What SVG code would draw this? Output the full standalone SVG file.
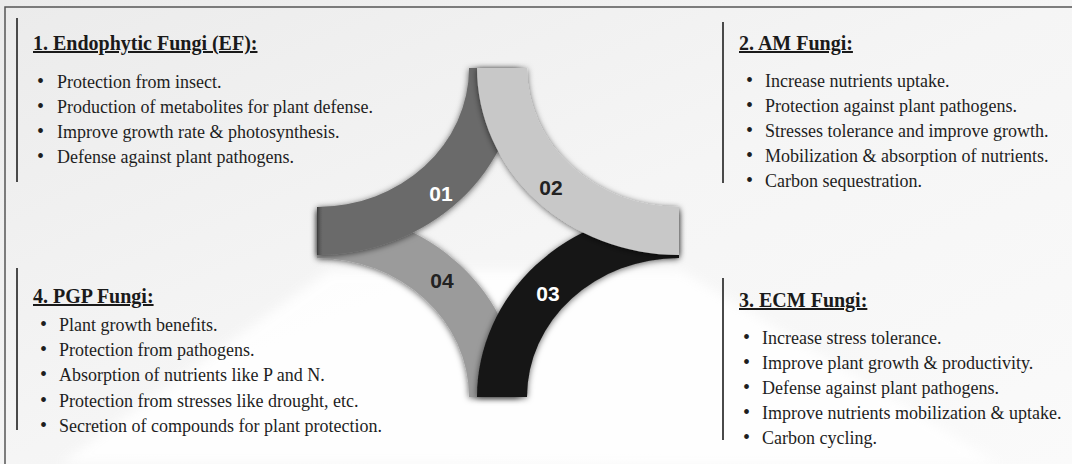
<svg xmlns="http://www.w3.org/2000/svg" width="1072" height="464" viewBox="0 0 1072 464">
  <defs>
    <linearGradient id="bg" x1="0" y1="0" x2="1" y2="1">
      <stop offset="0" stop-color="#ebebeb"/>
      <stop offset="0.5" stop-color="#f5f5f5"/>
      <stop offset="1" stop-color="#fafafa"/>
    </linearGradient>
    <linearGradient id="edgeL" x1="0" y1="0" x2="1" y2="0">
      <stop offset="0" stop-color="#3a3a3a"/>
      <stop offset="1" stop-color="#6b6b6b" stop-opacity="0"/>
    </linearGradient>
    <filter id="sh" x="-20%" y="-20%" width="140%" height="140%">
      <feDropShadow dx="0" dy="1" stdDeviation="3" flood-color="#000" flood-opacity="0.6"/>
    </filter>
    <filter id="soft" x="-10%" y="-10%" width="120%" height="120%">
      <feGaussianBlur stdDeviation="6"/>
    </filter>
  </defs>
  <style>
    .title { font-family: "Liberation Serif", "Times New Roman", serif; font-size: 20px; font-weight: bold; fill: #1a1a1a; text-decoration: underline; }
    .item { font-family: "Liberation Serif", "Times New Roman", serif; font-size: 18px; fill: #1e1e1e; }
    .bul { font-size: 20px; }
    .bar { stroke: #4a4a4a; stroke-width: 2; }
    .num { font-family: "Liberation Sans", Arial, sans-serif; font-size: 21px; font-weight: bold; text-anchor: middle; }
    .frame { stroke: #555; stroke-width: 1.5; fill: none; }
  </style>

  <rect x="0" y="0" width="1072" height="464" fill="url(#bg)"/>
  <polygon points="330,270 680,270 1000,464 60,464" fill="#ffffff" opacity="0.9" filter="url(#soft)"/>
  <path class="frame" d="M5,464 L5,7 L1072,7"/>

  <g id="node-01-panel">
    <line class="bar" x1="17" y1="18" x2="17" y2="182"/>
    <text class="title" x="33" y="50">1. Endophytic Fungi (EF):</text>
    <text class="item" y="88"><tspan class="bul" x="37">•</tspan><tspan x="57">Protection from insect.</tspan></text>
    <text class="item" y="113"><tspan class="bul" x="37">•</tspan><tspan x="57">Production of metabolites for plant defense.</tspan></text>
    <text class="item" y="138"><tspan class="bul" x="37">•</tspan><tspan x="57">Improve growth rate &amp; photosynthesis.</tspan></text>
    <text class="item" y="163"><tspan class="bul" x="37">•</tspan><tspan x="57">Defense against plant pathogens.</tspan></text>
  </g>

  <g id="node-02-panel">
    <line class="bar" x1="723" y1="22" x2="723" y2="183"/>
    <text class="title" x="739" y="50">2. AM Fungi:</text>
    <text class="item" y="87"><tspan class="bul" x="746">•</tspan><tspan x="765">Increase nutrients uptake.</tspan></text>
    <text class="item" y="112"><tspan class="bul" x="746">•</tspan><tspan x="765">Protection against plant pathogens.</tspan></text>
    <text class="item" y="137"><tspan class="bul" x="746">•</tspan><tspan x="765">Stresses tolerance and improve growth.</tspan></text>
    <text class="item" y="162"><tspan class="bul" x="746">•</tspan><tspan x="765">Mobilization &amp; absorption of nutrients.</tspan></text>
    <text class="item" y="187"><tspan class="bul" x="746">•</tspan><tspan x="765">Carbon sequestration.</tspan></text>
  </g>

  <g id="node-03-panel">
    <line class="bar" x1="723" y1="278" x2="723" y2="440"/>
    <text class="title" x="739" y="307">3. ECM Fungi:</text>
    <text class="item" y="344"><tspan class="bul" x="743">•</tspan><tspan x="762">Increase stress tolerance.</tspan></text>
    <text class="item" y="369"><tspan class="bul" x="743">•</tspan><tspan x="762">Improve plant growth &amp; productivity.</tspan></text>
    <text class="item" y="394"><tspan class="bul" x="743">•</tspan><tspan x="762">Defense against plant pathogens.</tspan></text>
    <text class="item" y="419"><tspan class="bul" x="743">•</tspan><tspan x="762">Improve nutrients mobilization &amp; uptake.</tspan></text>
    <text class="item" y="444"><tspan class="bul" x="743">•</tspan><tspan x="762">Carbon cycling.</tspan></text>
  </g>

  <g id="node-04-panel">
    <line class="bar" x1="17" y1="268" x2="17" y2="430"/>
    <text class="title" x="33" y="303">4. PGP Fungi:</text>
    <text class="item" y="331"><tspan class="bul" x="40">•</tspan><tspan x="59">Plant growth benefits.</tspan></text>
    <text class="item" y="356"><tspan class="bul" x="40">•</tspan><tspan x="59">Protection from pathogens.</tspan></text>
    <text class="item" y="381"><tspan class="bul" x="40">•</tspan><tspan x="59">Absorption of nutrients like P and N.</tspan></text>
    <text class="item" y="407"><tspan class="bul" x="40">•</tspan><tspan x="59">Protection from stresses like drought, etc.</tspan></text>
    <text class="item" y="432"><tspan class="bul" x="40">•</tspan><tspan x="59">Secretion of compounds for plant protection.</tspan></text>
  </g>

  <g id="connectors">
    <g id="arc-04" filter="url(#sh)">
      <path d="M317,258 L317,210 A202,187 0 0 1 519,397 L469,397 A152,139 0 0 0 317,258 Z" fill="#9b9b9b"/>
    </g>
    <g id="arc-03" filter="url(#sh)">
      <path d="M477,397 L527,397 A152,139 0 0 1 679,258 L679,210 A202,187 0 0 0 477,397 Z" fill="#161616"/>
    </g>
    <g id="arc-01" filter="url(#sh)">
      <path d="M317,207 L317,255 A202,187 0 0 0 519,68 L469,68 A152,139 0 0 1 317,207 Z" fill="#6b6b6b"/>
      <rect x="317" y="207" width="7" height="48" fill="url(#edgeL)"/>
    </g>
    <g id="arc-02" filter="url(#sh)">
      <path d="M477,68 L527,68 A152,139 0 0 0 679,207 L679,255 A202,187 0 0 1 477,68 Z" fill="#c8c8c8"/>
    </g>
  </g>

  <g id="node-01"><text class="num" x="441" y="201" fill="#ffffff">01</text></g>
  <g id="node-02"><text class="num" x="551" y="195" fill="#222222">02</text></g>
  <g id="node-03"><text class="num" x="548" y="301" fill="#ffffff">03</text></g>
  <g id="node-04"><text class="num" x="442" y="288" fill="#222222">04</text></g>
</svg>
